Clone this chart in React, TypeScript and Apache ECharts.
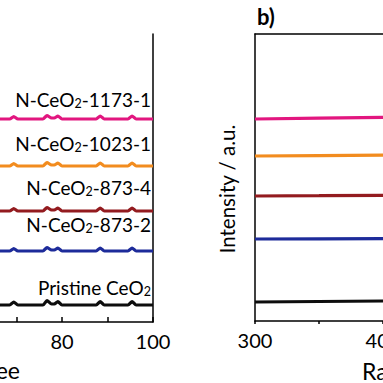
import React, { useEffect, useRef } from "react";
import * as echarts from "echarts";

// XRD (panel a, partial) — 2θ in degrees
const xrdAngles = [60, 68.5, 69.4, 70.3, 75.8, 76.7, 77.7, 78.3, 79.1, 80.0, 87.5, 88.4, 89.3, 94.5, 95.4, 96.3, 100];
const xrdPristine = [17, 17, 20, 17, 17, 21.5, 18, 18, 20.5, 17, 17, 20.5, 17, 17, 20.5, 17, 17];
const xrd873_2 = [71, 71, 73.5, 71, 71, 74.5, 72, 72, 74, 71, 71, 74, 71, 71, 74, 71, 71];
const xrd873_4 = [111, 111, 113.5, 111, 111, 114.5, 112, 112, 114, 111, 111, 114, 111, 111, 114, 111, 111];
const xrd1023_1 = [156, 156, 158.5, 156, 156, 159.5, 157, 157, 159, 156, 156, 159, 156, 156, 159, 156, 156];
const xrd1173_1 = [203, 203, 205.5, 203, 203, 206.5, 204, 204, 206, 203, 203, 206, 203, 203, 206, 203, 203];

// Raman (panel b, partial) — shift in cm-1
const ramanShift = [300, 350, 400, 450];
const ramanPristine = [19, 19.5, 20, 20.5];
const raman873_2 = [82, 82.2, 82.4, 82.6];
const raman873_4 = [125, 125.3, 125.7, 126];
const raman1023_1 = [165, 165.4, 165.8, 166.2];
const raman1173_1 = [202, 202.8, 203.6, 204.4];

const sampleLabels = [
  "{a|Pristine CeO}{s|2}",
  "{a|N-CeO}{s|2}{a|-873-2}",
  "{a|N-CeO}{s|2}{a|-873-4}",
  "{a|N-CeO}{s|2}{a|-1023-1}",
  "{a|N-CeO}{s|2}{a|-1173-1}",
];
const sampleColors = ["#0d0d0d", "#1d2b9a", "#931b1f", "#f28c1f", "#e2167f"];
const xrdSeries = [xrdPristine, xrd873_2, xrd873_4, xrd1023_1, xrd1173_1];
const ramanSeries = [ramanPristine, raman873_2, raman873_4, raman1023_1, raman1173_1];
const labelY = [287, 224, 187, 143, 99];

const FONT = "Lato, 'Open Sans', sans-serif";

export default function App() {
  const ref = useRef<HTMLDivElement>(null);
  useEffect(() => {
    document.body.style.margin = "0";
    const chart = echarts.init(ref.current!, null, { renderer: "svg" });
    const axisLineStyle = { color: "#000", width: 1.5 };
    const series: any[] = [];
    xrdSeries.forEach((vals, i) => {
      series.push({
        type: "line",
        xAxisIndex: 0,
        yAxisIndex: 0,
        data: xrdAngles.map((x, j) => [x, vals[j]]),
        showSymbol: false,
        smooth: 0.2,
        lineStyle: { color: sampleColors[i], width: 3.2 },
        clip: true,
      });
    });
    ramanSeries.forEach((vals, i) => {
      series.push({
        type: "line",
        xAxisIndex: 2,
        yAxisIndex: 2,
        data: ramanShift.map((x, j) => [x, vals[j]]),
        showSymbol: false,
        lineStyle: { color: sampleColors[i], width: 3.2 },
        clip: true,
      });
    });
    const graphics: any[] = sampleLabels.map((t, i) => ({
      type: "text",
      x: 151,
      y: labelY[i],
      style: {
        text: t,
        align: "right",
        verticalAlign: "middle",
        fill: "#000",
        rich: {
          a: { fontFamily: FONT, fontSize: 19, lineHeight: 22, verticalAlign: "middle", fill: "#000" },
          s: { fontFamily: FONT, fontSize: 12.5, verticalAlign: "bottom", padding: [7, 0, 0, 0], fill: "#000" },
        },
      },
    }));
    graphics.push(
      {
        type: "text",
        x: 227,
        y: 189,
        rotation: Math.PI / 2,
        style: { text: "Intensity / a.u.", align: "center", verticalAlign: "middle", font: `20.5px ${FONT}`, fill: "#000" },
      },
      {
        type: "text",
        x: 257,
        y: 5,
        style: { text: "b)", font: `bold 22px ${FONT}`, fill: "#000" },
      },
      {
        type: "text",
        x: 20,
        y: 370,
        style: { text: "2θ / degree", align: "right", verticalAlign: "middle", font: `23px ${FONT}`, fill: "#000" },
      },
      {
        type: "text",
        x: 362,
        y: 371,
        style: { text: "Raman Shift / cm⁻¹", align: "left", verticalAlign: "middle", font: `23px ${FONT}`, fill: "#000" },
      }
    );
    chart.setOption({
      animation: false,
      grid: [
        { left: -29, top: 34, width: 182, height: 288, show: false, outerBoundsMode: "none", containLabel: false },
        { left: 255, top: 34, width: 384, height: 287, show: false, outerBoundsMode: "none", containLabel: false },
      ],
      xAxis: [
        {
          gridIndex: 0, type: "value", min: 60, max: 100, interval: 20, position: "bottom",
          axisLine: { show: false },
          axisTick: { show: true, inside: true, length: 5, lineStyle: axisLineStyle },
          minorTick: { show: true, splitNumber: 2, length: 5, lineStyle: axisLineStyle },
          axisLabel: { fontFamily: FONT, fontSize: 20, color: "#000", margin: 9, showMinLabel: false },
          splitLine: { show: false }, minorSplitLine: { show: false },
        },
        {
          gridIndex: 0, type: "value", min: 60, max: 100, position: "top",
          axisLine: { show: true, lineStyle: axisLineStyle },
          axisTick: { show: false }, axisLabel: { show: false }, splitLine: { show: false },
        },
        {
          gridIndex: 1, type: "value", min: 300, max: 600, interval: 100, position: "bottom",
          axisLine: { show: true, lineStyle: axisLineStyle },
          axisTick: { show: true, inside: false, length: 3, lineStyle: axisLineStyle },
          minorTick: { show: true, splitNumber: 2, length: 3, lineStyle: axisLineStyle },
          axisLabel: { fontFamily: FONT, fontSize: 20, color: "#000", margin: 9 },
          splitLine: { show: false }, minorSplitLine: { show: false },
        },
        {
          gridIndex: 1, type: "value", min: 300, max: 600, position: "top",
          axisLine: { show: true, lineStyle: axisLineStyle },
          axisTick: { show: false }, axisLabel: { show: false }, splitLine: { show: false },
        },
      ],
      yAxis: [
        {
          gridIndex: 0, type: "value", min: 0, max: 288, show: false,
        },
        {
          gridIndex: 0, type: "value", min: 0, max: 288, position: "right",
          axisLine: { show: true, lineStyle: axisLineStyle },
          axisTick: { show: false }, axisLabel: { show: false }, splitLine: { show: false },
        },
        {
          gridIndex: 1, type: "value", min: 0, max: 287, position: "left",
          axisLine: { show: true, lineStyle: axisLineStyle },
          axisTick: { show: false }, axisLabel: { show: false }, splitLine: { show: false },
        },
      ],
      series,
      graphic: graphics,
    });
    return () => chart.dispose();
  }, []);
  return <div ref={ref} style={{ position: "absolute", left: 0, top: 0, width: 383, height: 383 }} />;
}
